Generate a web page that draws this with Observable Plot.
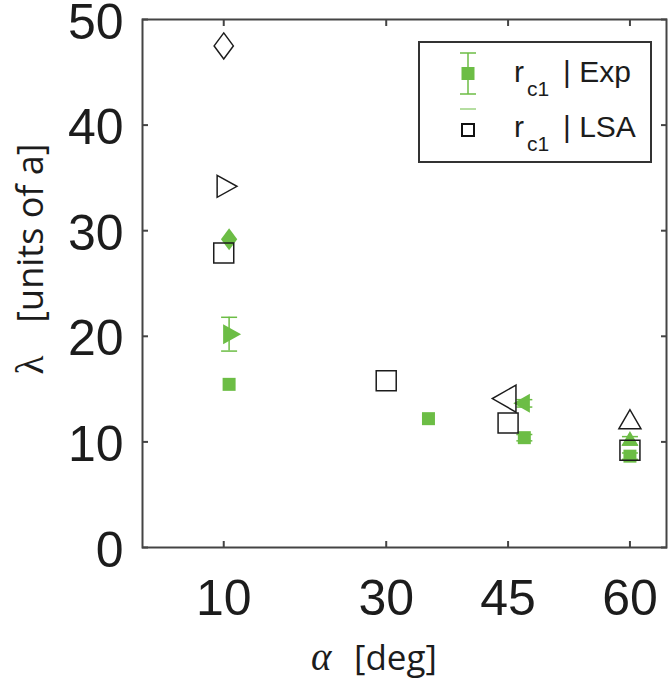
<!DOCTYPE html>
<html>
<head>
<meta charset="utf-8">
<script src="https://cdn.jsdelivr.net/npm/d3@7"></script>
<script src="https://cdn.jsdelivr.net/npm/@observablehq/plot@0.6"></script>
<style>
  body { margin: 0; background: #fff; }
  #chart { position: relative; width: 669px; height: 681px; }
</style>
</head>
<body>
<div id="chart"></div>
<script>
// Tick values
const xTicks = [10, 30, 45, 60];
const yTicks = [0, 10, 20, 30, 40, 50];

// Measured wavelengths (green, filled) with error half-widths
const expAlpha  = [10.66, 10.66, 10.66, 35.2, 47.0, 47.0, 60.0, 60.0];
const expLambda = [15.45, 20.2, 29.2, 12.2, 13.65, 10.4, 10.1, 8.65];
const expErr    = [0, 1.6, 0, 0, 0.35, 0.3, 0.4, 0.3];
const expShape  = ["square", "triRight", "diamond", "square", "triLeft", "square", "triUp", "square"];

// Linear stability analysis (black, open)
const lsaAlpha  = [10, 10, 10, 30, 45, 45, 60, 60];
const lsaLambda = [47.5, 34.2, 27.9, 15.8, 14.1, 11.8, 11.85, 9.2];
const lsaShape  = ["diamond", "triRight", "square", "square", "triLeft", "square", "triUp", "square"];

const green = "#6cbd45";
const ink = "#1c1c1c";

// Marker glyphs; r is the half-height (or half-width for upward triangles)
const rad = s => Math.sqrt(s / Math.PI);
const glyphs = {
  square:  { draw(c, s) { const r = rad(s); c.moveTo(-r, -r); c.lineTo(r, -r); c.lineTo(r, r); c.lineTo(-r, r); c.closePath(); } },
  diamond: { draw(c, s) { const r = rad(s), w = 0.74 * r; c.moveTo(0, -r); c.lineTo(w, 0); c.lineTo(0, r); c.lineTo(-w, 0); c.closePath(); } },
  triRight:{ draw(c, s) { const r = rad(s), w = 1.8 * r; c.moveTo(-w / 3, -r); c.lineTo(2 * w / 3, 0); c.lineTo(-w / 3, r); c.closePath(); } },
  triLeft: { draw(c, s) { const r = rad(s), w = 1.75 * r; c.moveTo(w / 3, -r); c.lineTo(-2 * w / 3, 0); c.lineTo(w / 3, r); c.closePath(); } },
  triUp:   { draw(c, s) { const r = rad(s), h = 1.73 * r; c.moveTo(-r, h / 3); c.lineTo(0, -2 * h / 3); c.lineTo(r, h / 3); c.closePath(); } },
  cap:     { draw(c, s) { const r = rad(s); c.moveTo(-r, 0); c.lineTo(r, 0); } }
};
const expSize = { square: 6.5, triRight: 10, diamond: 11, triLeft: 9.5, triUp: 8.5 };
const lsaSize = { square: 10, triRight: 11, diamond: 13, triLeft: 13.5, triUp: 11 };

const expRows = expAlpha.map((a, i) => ({ alpha: a, lambda: expLambda[i], err: expErr[i], shape: expShape[i] }));
const lsaRows = lsaAlpha.map((a, i) => ({ alpha: a, lambda: lsaLambda[i], shape: lsaShape[i] }));
const withErr = expRows.filter(d => d.err > 0);

const expMarks = Object.keys(expSize).map(k =>
  Plot.dot(expRows.filter(d => d.shape === k), {
    x: "alpha", y: "lambda", symbol: glyphs[k], r: expSize[k], fill: green, stroke: "none"
  }));
const lsaMarks = Object.keys(lsaSize).map(k =>
  Plot.dot(lsaRows.filter(d => d.shape === k), {
    x: "alpha", y: "lambda", symbol: glyphs[k], r: lsaSize[k], fill: "none", stroke: ink, strokeWidth: 1.5
  }));

const chart = Plot.plot({
  width: 669,
  height: 681,
  marginLeft: 142,
  marginRight: 3,
  marginTop: 19,
  marginBottom: 134,
  style: { fontFamily: "'Liberation Sans', Arial, sans-serif", fontSize: "50px", color: ink, background: "#fff" },
  x: { domain: [0, 64.5] },
  y: { domain: [0, 50] },
  marks: [
    // error bars
    Plot.ruleX(withErr, { x: "alpha", y1: d => d.lambda - d.err, y2: d => d.lambda + d.err, stroke: green, strokeWidth: 1.5 }),
    Plot.dot(withErr, { x: "alpha", y: d => d.lambda + d.err, symbol: glyphs.cap, r: 8, stroke: green, strokeWidth: 1.5, fill: "none" }),
    Plot.dot(withErr, { x: "alpha", y: d => d.lambda - d.err, symbol: glyphs.cap, r: 8, stroke: green, strokeWidth: 1.5, fill: "none" }),
    ...expMarks,
    ...lsaMarks,
    // inward ticks on all four sides
    Plot.axisX({ ticks: xTicks, anchor: "bottom", tickSize: 6, dy: -6, tickFormat: () => "", label: null, stroke: "#444", strokeWidth: 2 }),
    Plot.axisX({ ticks: xTicks, anchor: "top", tickSize: 6, dy: 6, tickFormat: () => "", label: null, stroke: "#444", strokeWidth: 2 }),
    Plot.axisY({ ticks: yTicks, anchor: "left", tickSize: 6, dx: 6, tickFormat: () => "", label: null, stroke: "#444", strokeWidth: 2 }),
    Plot.axisY({ ticks: yTicks, anchor: "right", tickSize: 6, dx: -6, tickFormat: () => "", label: null, stroke: "#444", strokeWidth: 2 }),
    // tick labels
    Plot.axisX({ ticks: xTicks, anchor: "bottom", tickSize: 0, tickPadding: 32, label: null }),
    Plot.axisY({ ticks: yTicks, anchor: "left", tickSize: 0, tickPadding: 19, dy: 3, label: null }),
    Plot.frame({ stroke: "#444", strokeWidth: 2 })
  ]
});

document.getElementById("chart").appendChild(chart);

// Axis titles and legend
const svg = d3.select(chart);

const xt = svg.append("text").attr("y", 670).attr("fill", ink).attr("text-anchor", "start");
xt.append("tspan").attr("x", 311).attr("font-family", "'Liberation Serif', 'Times New Roman', serif")
  .attr("font-style", "italic").attr("font-size", 39).text("α");
xt.append("tspan").attr("x", 354).attr("font-family", "'Open Sans', sans-serif").attr("font-size", 35).text("[deg]");

const yt = svg.append("text").attr("transform", "translate(43,259) rotate(-90)")
  .attr("text-anchor", "middle").attr("fill", ink);
yt.append("tspan").attr("font-family", "'Liberation Serif', 'Times New Roman', serif").attr("font-size", 39).text("λ");
yt.append("tspan").attr("font-family", "'Open Sans', sans-serif").attr("font-size", 36).attr("dx", 33).text("[units of a]");

const lg = svg.append("g").attr("text-anchor", "start");
lg.append("rect").attr("x", 419).attr("y", 42).attr("width", 232).attr("height", 120)
  .attr("fill", "#fff").attr("stroke", "#333").attr("stroke-width", 2);
// Exp entry: filled square with error bar
lg.append("line").attr("x1", 468).attr("x2", 468).attr("y1", 53).attr("y2", 94).attr("stroke", green).attr("stroke-width", 1.5);
lg.append("line").attr("x1", 460).attr("x2", 476).attr("y1", 53).attr("y2", 53).attr("stroke", green).attr("stroke-width", 1.5);
lg.append("line").attr("x1", 460).attr("x2", 476).attr("y1", 94).attr("y2", 94).attr("stroke", green).attr("stroke-width", 1.5);
lg.append("rect").attr("x", 461.5).attr("y", 67).attr("width", 13).attr("height", 13).attr("fill", green);
lg.append("line").attr("x1", 460).attr("x2", 476).attr("y1", 109).attr("y2", 109).attr("stroke", green).attr("stroke-width", 1);
// LSA entry: open square
lg.append("rect").attr("x", 462).attr("y", 124).attr("width", 12).attr("height", 12)
  .attr("fill", "none").attr("stroke", "#111").attr("stroke-width", 2);

const entry = (y, label) => {
  const t = lg.append("text").attr("font-family", "'Liberation Sans', Arial, sans-serif").attr("fill", ink);
  t.append("tspan").attr("x", 514).attr("y", y).attr("font-size", 30).text("r");
  t.append("tspan").attr("x", 527).attr("y", y + 14).attr("font-size", 21).text("c1");
  t.append("tspan").attr("x", 563).attr("y", y).attr("font-size", 30).text("| " + label);
};
entry(82, "Exp");
entry(137, "LSA");
</script>
</body>
</html>
